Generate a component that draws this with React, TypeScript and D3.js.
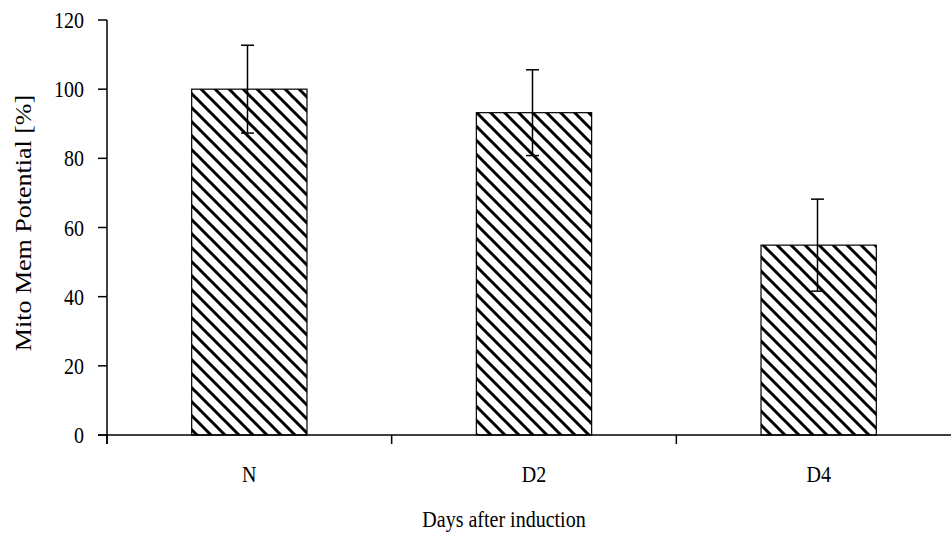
import React from "react";
import * as d3 from "d3";

// values
const categories = ["N", "D2", "D4"];
const means = [100, 93.2, 54.9];
const errors = [12.7, 12.4, 13.3];
const yTicks = [0, 20, 40, 60, 80, 100, 120];

const width = 951;
const height = 535;
const margin = { top: 20, right: -10, bottom: 100, left: 107 };

const font = "'Liberation Serif', 'Times New Roman', serif";
const fs = 23;
// the source picture looks squeezed sideways, so text is narrowed a bit
const sx = 0.87;

const App = () => {
  const x = d3
    .scaleBand()
    .domain(categories)
    .range([margin.left, width - margin.right])
    .padding(0);

  const y = d3
    .scaleLinear()
    .domain([0, 120])
    .range([height - margin.bottom, margin.top]);

  const barW = x.bandwidth() * 0.405;
  const capW = 13;
  const y0 = y(0);

  // category boundary ticks
  const boundaries = categories.map((c) => x(c)!).concat([x(categories[categories.length - 1])! + x.bandwidth()]);

  return (
    <svg
      width={width}
      height={height}
      style={{ position: "absolute", left: 0, top: 0, background: "#fff" }}
      fontFamily={font}
    >
      <defs>
        <pattern id="hatch" patternUnits="userSpaceOnUse" width={14} height={14}>
          <rect width={14} height={14} fill="#fff" />
          <path d="M0,0 L14,14 M-2,12 L2,16 M12,-2 L16,2" stroke="#000" strokeWidth={3} />
        </pattern>
      </defs>

      {/* bars */}
      {categories.map((c, i) => {
        const cx = x(c)! + x.bandwidth() / 2;
        return (
          <rect
            key={c}
            x={cx - barW / 2}
            y={y(means[i])}
            width={barW}
            height={y0 - y(means[i])}
            fill="url(#hatch)"
            stroke="#000"
            strokeWidth={1.2}
          />
        );
      })}

      {/* error bars */}
      {categories.map((c, i) => {
        const cx = Math.round(x(c)! + x.bandwidth() / 2) - 1.5;
        const top = y(means[i] + errors[i]);
        const bot = y(means[i] - errors[i]);
        return (
          <g key={c} stroke="#000" strokeWidth={1.5}>
            <line x1={cx} x2={cx} y1={top} y2={bot} />
            <line x1={cx - capW / 2} x2={cx + capW / 2} y1={top} y2={top} />
            <line x1={cx - capW / 2} x2={cx + capW / 2} y1={bot} y2={bot} />
          </g>
        );
      })}

      {/* y axis */}
      <line x1={margin.left} x2={margin.left} y1={y(120)} y2={y0 + 9} stroke="#000" strokeWidth={1.5} />
      {yTicks.map((t) => (
        <g key={t}>
          <line x1={margin.left - 9} x2={margin.left} y1={y(t)} y2={y(t)} stroke="#000" strokeWidth={1.5} />
          <text
            transform={`translate(${margin.left - 23}, ${y(t)}) scale(${sx}, 1)`}
            dy="0.35em"
            textAnchor="end"
            fontSize={fs}
            fill="#000"
          >
            {t}
          </text>
        </g>
      ))}

      {/* x axis */}
      <line x1={margin.left - 9} x2={width} y1={y0} y2={y0} stroke="#000" strokeWidth={1.5} />
      {boundaries.map((b, i) => (
        <line key={i} x1={b} x2={b} y1={y0} y2={y0 + 9} stroke="#000" strokeWidth={1.5} />
      ))}
      {categories.map((c) => (
        <text
          key={c}
          transform={`translate(${x(c)! + x.bandwidth() / 2}, 482) scale(${sx}, 1)`}
          textAnchor="middle"
          fontSize={fs}
          fill="#000"
        >
          {c}
        </text>
      ))}

      <text transform={`translate(504, 527) scale(${sx}, 1)`} textAnchor="middle" fontSize={fs} fill="#000">
        Days after induction
      </text>
      <text
        transform={`translate(31, 223) scale(${sx}, 1) rotate(-90)`}
        textAnchor="middle"
        fontSize={26}
        fill="#000"
      >
        Mito Mem Potential [%]
      </text>
    </svg>
  );
};

export default App;
